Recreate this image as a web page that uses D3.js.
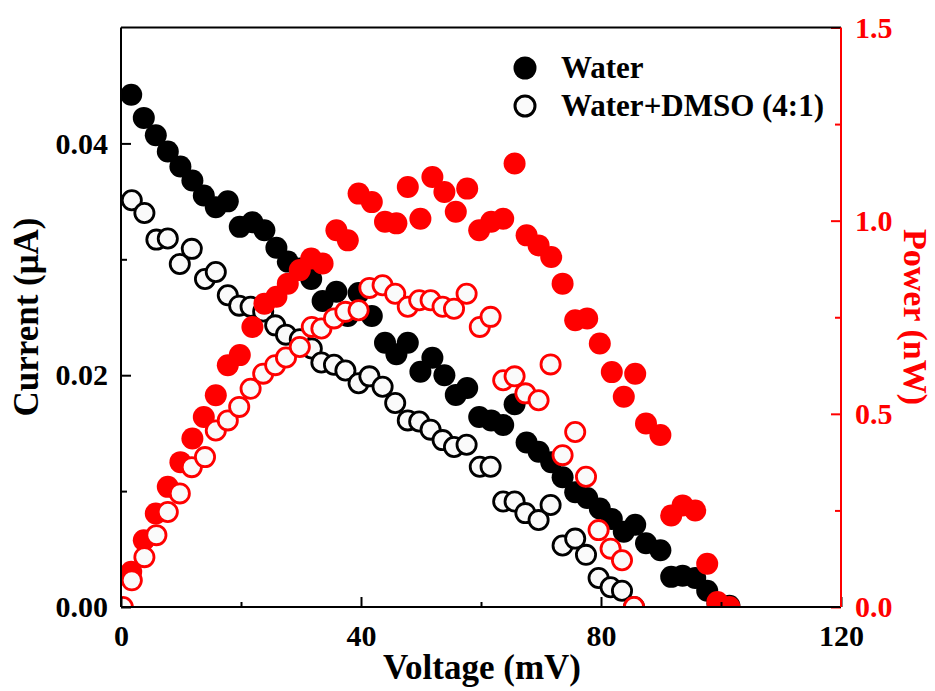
<!DOCTYPE html>
<html>
<head>
<meta charset="utf-8">
<script src="https://cdn.jsdelivr.net/npm/d3@7"></script>
<style>
  body { margin: 0; background: #fff; }
  svg { display: block; font-family: "Liberation Serif", "Times New Roman", serif; font-weight: bold; }
</style>
</head>
<body>
<svg id="chart" width="935" height="691"></svg>
<script>
// Water (filled symbols)
var waterV = [1.7, 3.8, 5.8, 7.8, 9.9, 11.9, 13.8, 15.8, 17.8, 19.8, 21.9, 23.9, 25.9, 27.8, 29.8, 31.7, 33.6, 35.9, 37.8, 39.6,
  41.8, 44.0, 45.9, 47.8, 49.9, 51.9, 53.9, 55.8, 57.7, 59.7, 61.7, 63.7, 65.6, 67.6, 69.6, 71.7, 73.6, 75.7, 77.7, 79.8,
  81.8, 83.8, 85.7, 87.5, 89.9, 91.7, 93.6, 95.7, 97.7, 99.4, 101.4]
var waterI = [0.0442, 0.0422, 0.0407, 0.0393, 0.0380, 0.0368, 0.0355, 0.0345, 0.0350, 0.0328, 0.0332, 0.0325, 0.0310, 0.0298, 0.0292, 0.0283, 0.0264, 0.0272, 0.0251, 0.0271,
  0.0251, 0.0228, 0.0218, 0.0228, 0.0203, 0.0215, 0.0200, 0.0183, 0.0189, 0.0164, 0.0161, 0.0157, 0.0175, 0.0142, 0.0134, 0.0125, 0.0112, 0.0099, 0.0094, 0.0085,
  0.0076, 0.0065, 0.0071, 0.0055, 0.0049, 0.0026, 0.0027, 0.0025, 0.0014, 0.0003, 0.0001]
var waterP = [0.091, 0.173, 0.242, 0.311, 0.375, 0.436, 0.492, 0.548, 0.626, 0.652, 0.725, 0.785, 0.803, 0.837, 0.872, 0.902, 0.889, 0.975, 0.949, 1.070,
  1.048, 0.997, 0.993, 1.087, 1.005, 1.113, 1.074, 1.023, 1.083, 0.975, 0.997, 1.005, 1.148, 0.962, 0.936, 0.906, 0.837, 0.742, 0.747, 0.682,
  0.608, 0.544, 0.604, 0.475, 0.445, 0.237, 0.263, 0.250, 0.112, 0.013, 0.0]

// Water+DMSO (4:1) (open symbols), first point has only power
var dmsoV = [0.3, 1.8, 3.9, 5.9, 7.8, 9.8, 11.8, 14.0, 15.8, 17.8, 19.7, 21.6, 23.7, 25.7, 27.5, 29.8, 31.8, 33.4, 35.5, 37.4, 39.6,
  41.4, 43.6, 45.7, 47.8, 49.7, 51.6, 53.6, 55.5, 57.6, 59.8, 61.6, 63.7, 65.6, 67.4, 69.6, 71.6, 73.6, 75.7, 77.5, 79.6,
  81.6, 83.5, 85.5]
var dmsoI = [null, 0.0351, 0.0340, 0.0317, 0.0318, 0.0296, 0.0309, 0.0283, 0.0289, 0.0269, 0.0260, 0.0259, 0.0255, 0.0243, 0.0235, 0.0231, 0.0223, 0.0211, 0.0209, 0.0204, 0.0193,
  0.0199, 0.0190, 0.0176, 0.0161, 0.0160, 0.0153, 0.0144, 0.0138, 0.0140, 0.0121, 0.0121, 0.0091, 0.0091, 0.0081, 0.0075, 0.0088, 0.0053, 0.0059, 0.0045, 0.0025,
  0.0017, 0.0014, 0.0]
var dmsoP = [0.0, 0.069, 0.129, 0.186, 0.246, 0.294, 0.362, 0.388, 0.457, 0.483, 0.518, 0.565, 0.604, 0.626, 0.646, 0.673, 0.725, 0.721, 0.747, 0.764, 0.768,
  0.826, 0.833, 0.811, 0.777, 0.794, 0.794, 0.777, 0.772, 0.811, 0.725, 0.751, 0.587, 0.597, 0.553, 0.535, 0.628, 0.393, 0.453, 0.337, 0.199,
  0.151, 0.121, 0.0]

var xTicks = [0, 40, 80, 120]
var xMinor = [20, 60, 100]
var iTicks = [0, 0.02, 0.04]
var iMinor = [0.01, 0.03]
var pTicks = [0, 0.5, 1.0, 1.5]
var pMinor = [0.25, 0.75, 1.25]
var legendLabels = ['Water', 'Water+DMSO (4:1)']

var RED = '#ff0000'
var margin = {top: 27.5, right: 94, bottom: 84, left: 121}
var width = 935, height = 691
var svg = d3.select('#chart')

var x = d3.scaleLinear().domain([0, 120]).range([margin.left, width - margin.right])
var yI = d3.scaleLinear().domain([0, 0.05]).range([height - margin.bottom, margin.top])
var yP = d3.scaleLinear().domain([0, 1.5]).range([height - margin.bottom, margin.top])

var water = waterV.map((v, i) => ({v: v, i: waterI[i], p: waterP[i]}))
var dmso = dmsoV.map((v, i) => ({v: v, i: dmsoI[i], p: dmsoP[i]}))

svg.append('clipPath').attr('id', 'clip')
  .append('rect')
  .attr('x', x(0)).attr('y', yI(0.05))
  .attr('width', x(120) - x(0)).attr('height', yI(0) - yI(0.05))

var plot = svg.append('g').attr('clip-path', 'url(#clip)')
var R = 11

// current series
plot.append('g').selectAll('circle')
  .data(water).join('circle')
  .attr('cx', d => x(d.v)).attr('cy', d => yI(d.i)).attr('r', R)
  .attr('fill', '#000')
plot.append('g').selectAll('circle')
  .data(dmso.filter(d => d.i != null)).join('circle')
  .attr('cx', d => x(d.v)).attr('cy', d => yI(d.i)).attr('r', R - 1.4)
  .attr('fill', '#fafafa').attr('stroke', '#000').attr('stroke-width', 2.8)
// power series
plot.append('g').selectAll('circle')
  .data(water).join('circle')
  .attr('cx', d => x(d.v)).attr('cy', d => yP(d.p)).attr('r', R)
  .attr('fill', RED)
plot.append('g').selectAll('circle')
  .data(dmso).join('circle')
  .attr('cx', d => x(d.v)).attr('cy', d => yP(d.p)).attr('r', R - 1.4)
  .attr('fill', '#fafafa').attr('stroke', RED).attr('stroke-width', 2.8)

// axes (ticks inward)
function styleAxis(g, color) {
  g.select('.domain').remove()
  g.selectAll('line').attr('stroke', color).attr('stroke-width', 2)
  g.selectAll('text').attr('fill', color).attr('font-size', 30).attr('font-family', 'Liberation Serif').attr('font-weight', 'bold')
}

var xAxis = svg.append('g')
  .attr('transform', `translate(0,${yI(0)})`)
  .call(d3.axisTop(x).tickValues(xTicks).tickFormat(d3.format('d')).tickSize(10))
styleAxis(xAxis, '#000')
xAxis.selectAll('text').attr('y', 39).attr('dy', 0)
svg.append('g')
  .attr('transform', `translate(0,${yI(0)})`)
  .call(d3.axisTop(x).tickValues(xMinor).tickFormat('').tickSize(5))
  .call(g => styleAxis(g, '#000'))

var yAxis = svg.append('g')
  .attr('transform', `translate(${x(0)},0)`)
  .call(d3.axisRight(yI).tickValues(iTicks).tickFormat(d3.format('.2f')).tickSize(10))
styleAxis(yAxis, '#000')
yAxis.selectAll('text').attr('text-anchor', 'end').attr('x', -13)
svg.append('g')
  .attr('transform', `translate(${x(0)},0)`)
  .call(d3.axisRight(yI).tickValues(iMinor).tickFormat('').tickSize(6))
  .call(g => styleAxis(g, '#000'))

var pAxis = svg.append('g')
  .attr('transform', `translate(${x(120)},0)`)
  .call(d3.axisLeft(yP).tickValues(pTicks).tickFormat(d3.format('.1f')).tickSize(10))
styleAxis(pAxis, RED)
pAxis.selectAll('text').attr('text-anchor', 'start').attr('x', 14)
svg.append('g')
  .attr('transform', `translate(${x(120)},0)`)
  .call(d3.axisLeft(yP).tickValues(pMinor).tickFormat('').tickSize(6))
  .call(g => styleAxis(g, RED))

// frame
svg.append('line').attr('x1', x(0)).attr('x2', x(120)).attr('y1', yI(0)).attr('y2', yI(0)).attr('stroke', '#000').attr('stroke-width', 2)
svg.append('line').attr('x1', x(0)).attr('x2', x(120)).attr('y1', yI(0.05)).attr('y2', yI(0.05)).attr('stroke', '#000').attr('stroke-width', 2)
svg.append('line').attr('x1', x(0)).attr('x2', x(0)).attr('y1', yI(0)).attr('y2', yI(0.05)).attr('stroke', '#000').attr('stroke-width', 2)
svg.append('line').attr('x1', x(120)).attr('x2', x(120)).attr('y1', yP(0)).attr('y2', yP(1.5)).attr('stroke', RED).attr('stroke-width', 2)

// axis titles
svg.append('text')
  .attr('x', 482).attr('y', 679)
  .attr('text-anchor', 'middle').attr('font-size', 35)
  .text('Voltage (mV)')
svg.append('text')
  .attr('transform', `translate(38,317) rotate(-90)`)
  .attr('text-anchor', 'middle').attr('font-size', 35)
  .text('Current (μA)')
svg.append('text')
  .attr('transform', `translate(904,317) rotate(90)`)
  .attr('text-anchor', 'middle').attr('font-size', 34).attr('fill', RED)
  .text('Power (nW)')

// legend
var legend = svg.append('g').attr('transform', 'translate(525,68)')
legend.append('circle').attr('cx', 0).attr('cy', 0).attr('r', 11.5).attr('fill', '#000')
legend.append('circle').attr('cx', 0).attr('cy', 38).attr('r', 10).attr('fill', '#fafafa').attr('stroke', '#000').attr('stroke-width', 3)
legend.selectAll('text.lab')
  .data(legendLabels).join('text')
  .attr('class', 'lab')
  .attr('x', 36).attr('y', (d, i) => 10 + i * 38)
  .attr('font-size', 31)
  .text(d => d)
</script>
</body>
</html>
